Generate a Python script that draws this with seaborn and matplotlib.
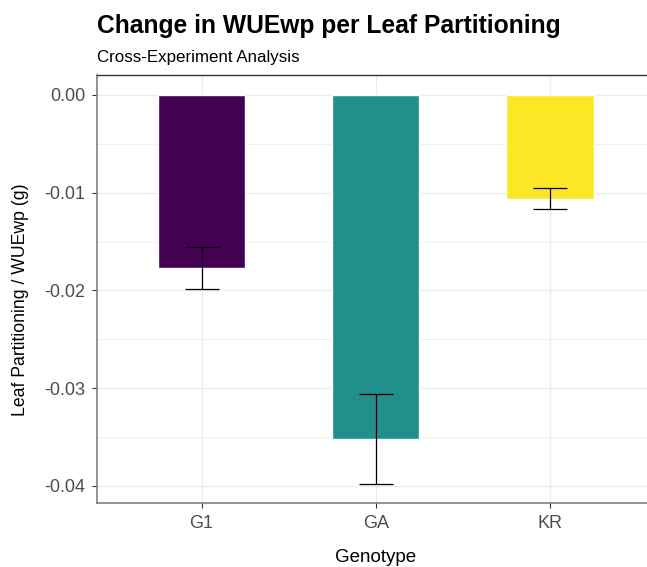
import matplotlib
matplotlib.use("Agg")
import matplotlib.pyplot as plt
import seaborn as sns
import numpy as np
import pandas as pd
from matplotlib.ticker import FixedLocator, FuncFormatter

genotypes = ["G1", "GA", "KR"]
means = [-0.0177, -0.0352, -0.0106]
ses = [0.0021, 0.0046, 0.00106]
colors = ["#440154", "#21908C", "#FDE725"]
y_ticks = [0.00, -0.01, -0.02, -0.03, -0.04]

sns.set_theme(style="white")
plt.rcParams["font.family"] = ["Liberation Sans", "DejaVu Sans"]

df = pd.DataFrame({"Genotype": genotypes, "value": means, "se": ses})

fig = plt.figure(figsize=(6.47, 5.67), dpi=100)
W, H = 647, 567
left, right, top, bottom = 97, 654.6, 75, 503
ax = fig.add_axes([left / W, 1 - bottom / H, (right - left) / W, (bottom - top) / H])

sns.barplot(data=df, x="Genotype", y="value", hue="Genotype", palette=colors,
            width=0.5, legend=False, ax=ax, errorbar=None, saturation=1, zorder=2)
ax.errorbar(np.arange(len(genotypes)), df["value"], yerr=df["se"], fmt="none",
            ecolor="black", elinewidth=0.9, capsize=17.3 * 0.72, capthick=0.9, zorder=3)

ax.set_xlim(-0.6, 2.6)
ax.set_ylim(-0.04174, 0.002046)
ax.yaxis.set_major_locator(FixedLocator(y_ticks))
ax.yaxis.set_minor_locator(FixedLocator([-0.005, -0.015, -0.025, -0.035]))
ax.yaxis.set_major_formatter(FuncFormatter(lambda v, p: "0.00" if abs(v) < 1e-9 else f"{v:.2f}"))

ax.grid(True, which="major", color="#ebebeb", linewidth=0.9, zorder=0)
ax.grid(True, which="minor", axis="y", color="#f0f0f0", linewidth=0.7, zorder=0)
ax.set_axisbelow(True)

for s in ["left", "bottom"]:
    ax.spines[s].set_color("#808080")
    ax.spines[s].set_linewidth(1.2)
ax.spines["top"].set_color("#333333")
ax.spines["top"].set_linewidth(1.0)
ax.spines["right"].set_visible(False)

ax.tick_params(axis="both", which="major", length=3.5, width=0.8, color="#333333",
               labelcolor="#4d4d4d", labelsize=13, pad=5, left=True, bottom=True)
ax.tick_params(axis="both", which="minor", length=0)

ax.set_xlabel("Genotype", fontsize=13.5, color="black")
ax.set_ylabel("Leaf Partitioning / WUEwp (g)", fontsize=12.7, color="black")
ax.xaxis.set_label_coords((375.8 - left) / (right - left), -(557 - bottom) / (bottom - top))
ax.yaxis.set_label_coords(-(left - 20) / (right - left), (503 - 300) / (bottom - top))
ax.xaxis.label.set_va("center")
ax.yaxis.label.set_va("center")

fig.text(left / W, 1 - 33 / H, "Change in WUEwp per Leaf Partitioning",
         fontsize=17.7, fontweight="bold", ha="left", va="baseline", color="black")
fig.text(left / W, 1 - 62 / H, "Cross-Experiment Analysis",
         fontsize=12.2, ha="left", va="baseline", color="black")

fig.savefig("out.png", dpi=100)
